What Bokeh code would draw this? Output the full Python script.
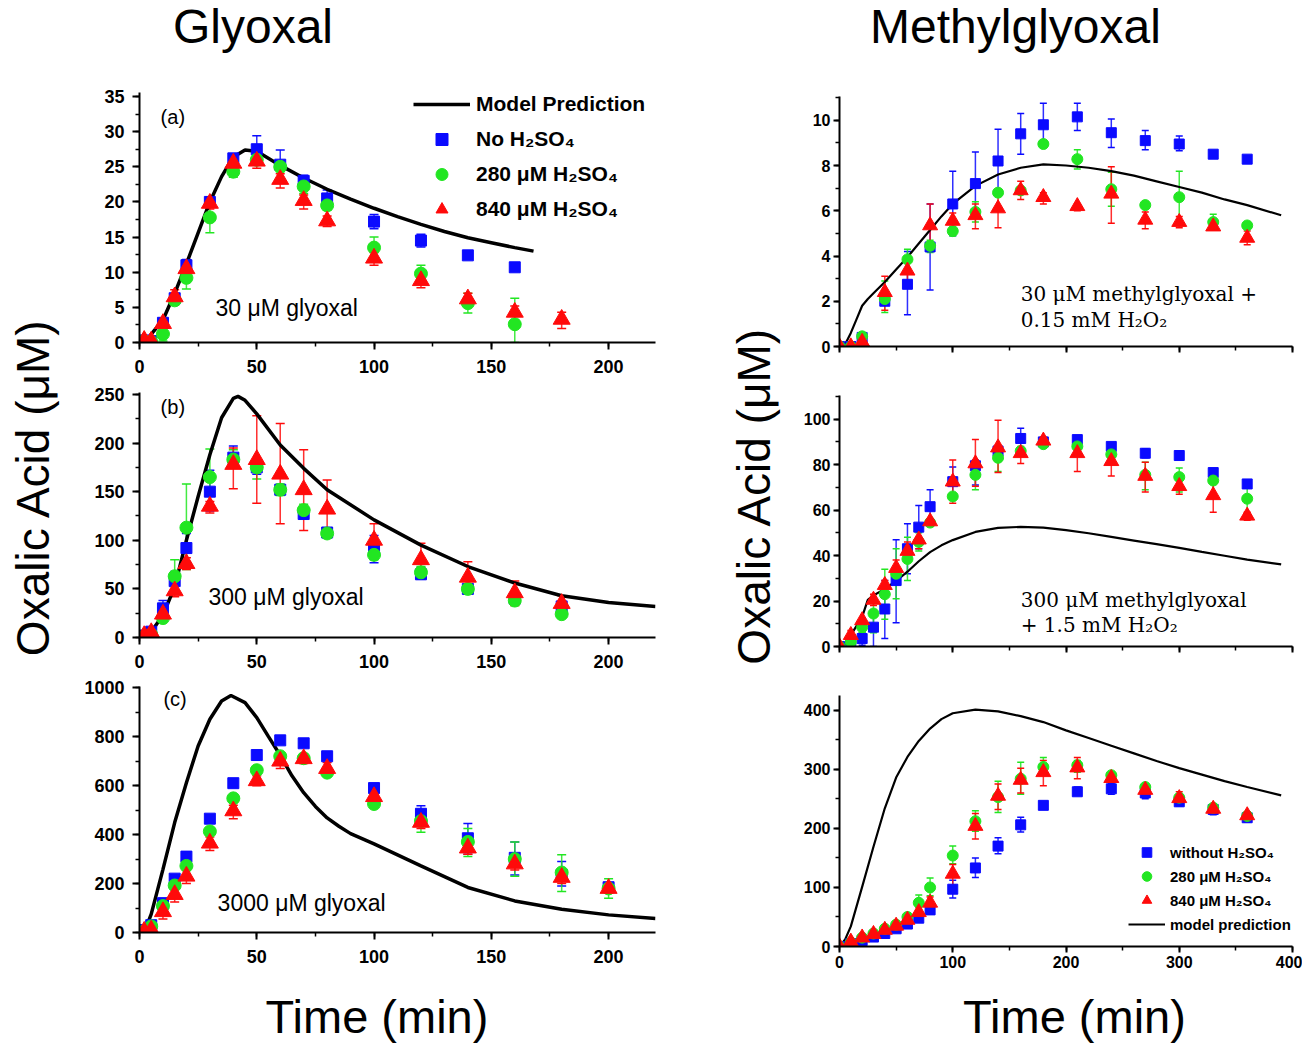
import math
from bokeh.plotting import figure
from bokeh.models import (Range1d, ColumnDataSource, Whisker, TeeHead, Label, Legend,
                          LegendItem, SingleIntervalTicker)
from bokeh.layouts import column, row
from bokeh.embed import file_html
from bokeh.resources import INLINE

# ---------------------------------------------------------------- data
# Glyoxal panels (time in min, oxalic acid in uM)
T_A = [2, 5, 10, 15, 20, 30, 40, 50, 60, 70, 80, 100, 120, 140, 160, 180]
A_NO = [0.3, 0.2, 2.8, 6.3, 11.0, 20.0, 26.2, 27.5, 25.3, 23.0, 20.5, 17.2, 14.5, 12.4, 10.7, None]
A_NO_LO = [None, None, 2.3, None, 10.2, 19.3, 25.6, 26.6, 24.6, 22.3, 19.3, 16.2, 13.6, None, None, None]
A_NO_HI = [None, None, 3.3, None, 11.8, 20.7, 26.8, 29.4, 27.4, 23.8, 21.7, 18.2, 15.4, None, None, None]
A_280 = [0.2, 0.1, 1.2, 6.0, 9.2, 17.8, 24.3, 26.0, 25.0, 22.2, 19.5, 13.5, 9.8, 5.6, 2.6, None]
A_280_LO = [None, None, 0.2, None, 7.6, 15.6, 23.5, 25.3, 24.3, 21.2, 18.8, 12.0, 8.6, 4.2, 0.0, None]
A_280_HI = [None, None, 2.2, None, 10.8, 20.0, 25.1, 26.7, 25.7, 23.2, 20.2, 15.0, 11.0, 7.0, 6.3, None]
A_840 = [0.3, 0.2, 2.7, 6.5, 10.5, 19.8, 25.5, 25.8, 23.2, 20.2, 17.3, 12.0, 8.8, 6.2, 4.3, 3.3]
A_840_LO = [None, None, 2.0, 5.3, 9.5, 19.0, 24.5, 24.8, 22.0, 19.0, 16.5, 11.0, 7.8, 5.2, 3.2, 2.0]
A_840_HI = [None, None, 3.3, 7.5, 11.3, 20.6, 26.4, 26.8, 24.0, 21.0, 18.0, 12.8, 9.6, 7.0, 5.2, 4.3]
MA_T = [3, 5, 10, 15, 20, 25, 30, 35, 40, 45, 50, 60, 70, 80, 90, 100, 110, 120, 130, 140, 150, 160, 168]
MA_Y = [0.0, 1.2, 3.2, 7.0, 11.2, 15.6, 20.0, 23.6, 26.4, 27.4, 27.2, 25.2, 23.4, 21.8, 20.4, 19.1,
        17.9, 16.8, 15.8, 14.9, 14.2, 13.5, 13.0]

T_B = [2, 5, 10, 15, 20, 30, 40, 50, 60, 70, 80, 100, 120, 140, 160, 180]
B_NO = [2, 6, 30, 58, 92, 150, 185, 175, 152, 127, 108, 92, 65, 50, 40, 32]
B_NO_LO = [None, None, 22, 48, 78, 130, 175, 168, 148, 123, 104, 77, 60, 45, 35, 27]
B_NO_HI = [None, None, 38, 68, 107, 172, 197, 182, 156, 131, 112, 105, 72, 55, 45, 37]
B_280 = [1, 3, 20, 63, 113, 165, 183, 175, 152, 131, 107, 85, 67, 50, 38, 24]
B_280_LO = [None, None, 17, 45, 70, 135, 175, 163, 146, 125, 102, 80, 61, 45, 33, 21]
B_280_HI = [None, None, 23, 80, 158, 194, 193, 180, 158, 137, 112, 90, 73, 55, 43, 27]
B_840 = [2, 5, 24, 48, 76, 135, 178, 183, 168, 152, 132, 100, 80, 62, 46, 35]
B_840_LO = [None, None, 20, 42, 70, 128, 153, 138, 117, 110, 103, 88, 67, 45, 33, 25]
B_840_HI = [None, None, 28, 55, 82, 140, 195, 228, 220, 193, 162, 117, 97, 78, 58, 43]
MB_T = [2, 5, 10, 15, 20, 25, 30, 35, 40, 42, 45, 50, 60, 70, 80, 100, 120, 140, 160, 180, 200, 220]
MB_Y = [0, 6, 23, 52, 100, 145, 188, 226, 246, 248, 244, 230, 198, 174, 152, 121, 95, 73, 56, 43, 36, 32]

T_C = [2, 5, 10, 15, 20, 30, 40, 50, 60, 70, 80, 100, 120, 140, 160, 180, 200]
C_NO = [10, 30, 120, 220, 310, 465, 610, 725, 785, 773, 720, 590, 485, 385, 305, 235, 185]
C_NO_LO = [None, None, None, None, None, None, None, None, None, None, None, 575, 450, 320, 235, 190, 170]
C_NO_HI = [None, None, None, None, None, None, None, None, None, None, None, 605, 518, 445, 370, 290, 200]
C_280 = [5, 25, 108, 192, 272, 413, 548, 663, 720, 712, 653, 525, 455, 370, 300, 245, 180]
C_280_LO = [None, None, None, None, None, None, None, None, None, None, None, None, 410, 310, 230, 168, 140]
C_280_HI = [None, None, None, None, None, None, None, None, None, None, None, None, 475, 425, 370, 318, 220]
C_840 = [5, 10, 85, 155, 230, 365, 497, 620, 700, 710, 670, 555, 450, 345, 280, 225, 180]
C_840_LO = [None, None, 55, 125, 200, 335, 465, 600, 670, 690, 640, 530, 425, 320, 255, 200, 160]
C_840_HI = [None, None, 105, 180, 255, 390, 520, 640, 725, 730, 695, 580, 470, 365, 300, 245, 200]
MC_T = [2, 5, 10, 15, 20, 25, 30, 35, 39, 45, 50, 55, 60, 65, 70, 75, 80, 85, 90, 100, 120, 140, 160,
        180, 200, 220]
MC_Y = [0, 75, 258, 449, 612, 762, 871, 946, 968, 939, 878, 800, 724, 640, 571, 515, 468, 434, 404,
        362, 272, 184, 129, 95, 72, 57]

# Methylglyoxal panels
T_R1 = [0, 10, 20, 40, 60, 80, 100, 120, 140, 160, 180, 210, 240, 270, 300, 330, 360]
R1_NO = [0, 0, 0.4, 2.0, 2.75, 4.4, 6.3, 7.2, 8.2, 9.4, 9.8, 10.15, 9.45, 9.1, 8.95, 8.5, 8.28]
R1_NO_LO = [None, None, None, None, 1.4, 2.5, 4.9, 5.8, 6.8, 8.5, 8.9, 9.55, 8.8, 8.7, 8.65, None, None]
R1_NO_HI = [None, None, None, None, 4.2, 6.3, 7.75, 8.6, 9.6, 10.3, 10.75, 10.75, 10.05, 9.55, 9.3, None, None]
R1_280 = [0, 0, 0.45, 2.1, 3.85, 4.45, 5.1, 5.95, 6.8, 6.9, 8.95, 8.28, 6.95, 6.25, 6.6, 5.5, 5.35]
R1_280_LO = [None, None, None, 1.5, 3.4, 4.15, 4.9, 5.5, None, None, None, 7.85, 6.2, None, 5.5, 5.2, None]
R1_280_HI = [None, None, None, 2.9, 4.3, 4.7, 5.3, 6.4, None, None, None, 8.7, 7.7, None, 7.75, 5.85, None]
R1_840 = [0, 0, 0.2, 2.4, 3.35, 5.35, 5.55, 5.8, 6.1, 6.9, 6.6, 6.2, 6.75, 5.6, 5.5, 5.3, 4.8]
R1_840_LO = [None, None, None, 1.6, 2.9, 4.4, 5.2, 5.2, 5.25, 6.5, 6.3, 6.0, 5.45, 5.2, 5.25, 5.15, 4.5]
R1_840_HI = [None, None, None, 3.1, 3.8, 6.3, 5.9, 6.3, 6.85, 7.3, 6.8, 6.3, 7.95, 5.95, 5.75, 5.45, 5.1]
MR1_T = [4, 10, 15, 20, 25, 30, 40, 50, 60, 70, 80, 90, 100, 120, 140, 160, 180, 200, 220, 240, 260,
         280, 300, 320, 340, 360, 390]
MR1_Y = [0, 0.6, 1.2, 1.8, 2.1, 2.35, 2.85, 3.4, 3.95, 4.55, 5.15, 5.75, 6.3, 7.1, 7.6, 7.9, 8.05, 8.0,
         7.9, 7.75, 7.55, 7.3, 7.05, 6.8, 6.5, 6.25, 5.8]

T_R23 = [0, 10, 20, 30, 40, 50, 60, 70, 80, 100, 120, 140, 160, 180, 210, 240, 270, 300, 330, 360]
R2_NO = [0, 1, 3.5, 8.5, 16.5, 29, 43, 52.5, 61.5, 72.5, 79.5, 86, 91.5, 90, 91, 88, 85, 84, 76.5, 71.5]
R2_NO_LO = [None, None, 0.5, 0, 3.5, 10.5, 32, 43, 54, 66, 71, None, 87, None, None, None, 83, None, None, None]
R2_NO_HI = [None, None, 6, 16, 29, 47, 54, 62, 69, 79, 82, None, 96, None, None, None, 87, None, None, None]
R2_280 = [0, 2, 8.5, 14.5, 23, 32, 38.5, 46, 54.5, 66, 75.5, 83, 86, 89, 88, 84.5, 75.5, 74.5, 73, 65]
R2_280_LO = [None, None, 6, 6, 12, 21, 29, 42, None, None, 69, 77, None, None, None, None, 69, 68, 67, 56]
R2_280_HI = [None, None, 11, 22, 34, 43, 48, 50, None, None, 78, 87, None, None, None, None, 81, 78.5, 78, 71]
R2_840 = [0, 5, 11.5, 20.5, 27, 34.5, 42, 47, 55, 72.5, 80.5, 87.5, 85, 90.5, 85, 81.5, 75, 70.5, 66.5, 57.5]
R2_840_LO = [None, 3, None, 18, 25, 29, 40, 43, None, 63, 70.5, 76.5, 80.5, 89, 77, 75, 68, 67, 59, 55.5]
R2_840_HI = [None, 7, None, 23, 29, 38, 46, 51, None, 82, 91, 99.5, 88, 92, 92, 87, 81, 74, 74, 59]
MR2_T = [3, 10, 20, 25, 30, 40, 50, 60, 70, 80, 90, 100, 120, 140, 160, 180, 200, 220, 240, 260, 280,
         300, 320, 340, 360, 390]
MR2_Y = [0, 5, 13, 20.5, 22.5, 25.3, 28.8, 32.9, 37.5, 41.5, 44.5, 46.8, 50.4, 52.2, 52.6, 52.3, 51.2,
         49.8, 48.2, 46.6, 45, 43.4, 41.6, 39.9, 38.2, 36.1]

R3_NO = [0, 5, 10, 16, 22, 30, 38, 48, 62, 97, 133, 170, 206, 239, 262, 267, 260, 245, 232, 218]
R3_NO_LO = [None, None, None, None, None, None, None, None, None, 82, 117, 157, 194, None, 256, 258, 250, 238, 223, 211]
R3_NO_HI = [None, None, None, None, None, None, None, None, None, 112, 150, 184, 219, None, 270, 276, 268, 250, 238, 225]
R3_280 = [0, 7, 15, 22, 30, 37, 50, 74, 100, 154, 212, 253, 284, 304, 307, 290, 270, 252, 235, 221]
R3_280_LO = [None, None, None, None, 25, 31, 44, 62, 86, 140, 195, 227, 258, 290, 295, None, None, None, None, None]
R3_280_HI = [None, None, None, None, 36, 43, 56, 87, 116, 170, 230, 280, 312, 320, 315, None, None, None, None, None]
R3_840 = [0, 8, 15, 21, 28, 35, 45, 58, 74, 123, 204, 255, 282, 295, 303, 285, 265, 251, 233, 222]
R3_840_LO = [None, None, None, None, None, 31, 40, 52, 64, 104, 182, 232, 260, 272, 284, 280, 258, 242, 228, 215]
R3_840_HI = [None, None, None, None, None, 40, 52, 66, 84, 139, 225, 275, 302, 315, 320, 292, 272, 262, 240, 228]
MR3_T = [0, 5, 10, 20, 30, 40, 50, 60, 70, 80, 90, 100, 120, 140, 160, 180, 200, 220, 240, 260, 280,
         300, 320, 340, 360, 390]
MR3_Y = [0, 12, 34, 101, 169, 234, 286, 321, 348, 369, 385, 395, 401, 398, 390, 380, 366, 353, 340,
         327, 314, 302, 291, 280, 270, 256]

# ---------------------------------------------------------------- style
SANS = "Liberation Sans"
SERIF = "DejaVu Serif"
BLUE = "#0a0aff"
GREEN = "#22e622"
RED = "#ff0a0a"


def blank(w, h):
    p = figure(width=w, height=h, x_range=Range1d(0, w), y_range=Range1d(0, h),
               x_axis_type=None, y_axis_type=None, output_backend="svg",
               toolbar_location=None, min_border=0)
    p.outline_line_color = None
    p.grid.visible = False
    return p


def panel(w, h, xr, yr, borders, xint, yint, font_px, std, tick_out, xlabels=True):
    p = figure(width=w, height=h, x_range=Range1d(*xr), y_range=Range1d(*yr),
               output_backend="svg", toolbar_location=None,
               min_border_left=borders[0], min_border_right=borders[1],
               min_border_top=borders[2], min_border_bottom=borders[3])
    p.outline_line_color = None
    p.xgrid.visible = False
    p.ygrid.visible = False
    p.xaxis.ticker = SingleIntervalTicker(interval=xint, num_minor_ticks=2)
    p.yaxis.ticker = SingleIntervalTicker(interval=yint, num_minor_ticks=2)
    for ax in (p.xaxis[0], p.yaxis[0]):
        ax.axis_line_width = 2
        ax.axis_line_color = "black"
        ax.major_tick_line_width = 2
        ax.minor_tick_line_width = 1.5
        ax.major_tick_in = 0
        ax.major_tick_out = tick_out
        ax.minor_tick_in = 0
        ax.minor_tick_out = tick_out // 2 + 1
        ax.major_label_text_font = SANS
        ax.major_label_text_font_style = "bold"
        ax.major_label_text_font_size = f"{font_px}px"
        ax.major_label_text_color = "black"
        ax.major_label_standoff = std
    if not xlabels:
        p.xaxis[0].major_label_overrides = {v: "" for v in range(0, 401, 100)}
    return p


def series(p, t, y, lo, hi, color, marker, size, head):
    pts = [(a, b) for a, b in zip(t, y) if b is not None]
    src = ColumnDataSource(dict(x=[a for a, _ in pts], y=[b for _, b in pts]))
    err = [(a, l, h) for a, l, h in zip(t, lo, hi) if l is not None and h is not None]
    if err:
        esrc = ColumnDataSource(dict(x=[e[0] for e in err], lower=[e[1] for e in err],
                                     upper=[e[2] for e in err]))
        p.add_layout(Whisker(source=esrc, base="x", lower="lower", upper="upper",
                             line_color=color, line_width=1.5, line_alpha=0.85,
                             upper_head=TeeHead(size=head, line_color=color, line_width=1.5),
                             lower_head=TeeHead(size=head, line_color=color, line_width=1.5)))
    return p.scatter("x", "y", source=src, marker=marker, size=size, color=color)


def model(p, t, y, width):
    return p.line(t, y, line_color="black", line_width=width)


def text(p, x, y, s, size, font=SANS):
    p.add_layout(Label(x=x, y=y, text=s, text_font=font, text_font_size=size,
                       text_baseline="middle", text_align="left", text_color="black"))


def style_legend(leg, size, gw, gh, standoff, spacing):
    leg.label_text_font = SANS
    leg.label_text_font_style = "bold"
    leg.label_text_font_size = size
    leg.label_text_color = "black"
    leg.glyph_width = gw
    leg.glyph_height = gh
    leg.label_height = gh
    leg.label_standoff = standoff
    leg.spacing = spacing
    leg.padding = 0
    leg.margin = 0
    leg.border_line_color = None
    leg.background_fill_alpha = 0


# ---------------------------------------------------------------- left column
LW = 625
pa = panel(LW, 320, (0, 220), (0, 35.57), (64, 45, 32, 38), 50, 5, 18, 10, 7)
pb = panel(LW, 295, (0, 220), (0, 252), (64, 45, 12, 38), 50, 50, 18, 10, 7)
pc = panel(LW, 310, (0, 220), (0, 1005), (64, 45, 11, 53), 50, 200, 18, 10, 7)
for p in (pa, pb, pc):
    p.yaxis[0].major_label_standoff = 8

panels_left = [
    (pa, T_A, [(A_NO, A_NO_LO, A_NO_HI), (A_280, A_280_LO, A_280_HI), (A_840, A_840_LO, A_840_HI)], MA_T, MA_Y),
    (pb, T_B, [(B_NO, B_NO_LO, B_NO_HI), (B_280, B_280_LO, B_280_HI), (B_840, B_840_LO, B_840_HI)], MB_T, MB_Y),
    (pc, T_C, [(C_NO, C_NO_LO, C_NO_HI), (C_280, C_280_LO, C_280_HI), (C_840, C_840_LO, C_840_HI)], MC_T, MC_Y),
]
styles_left = [(BLUE, "square", 11), (GREEN, "circle", 13), (RED, "triangle", 17)]
leg_rs = None
for p, t, sers, mt, my in panels_left:
    m = model(p, mt, my, 3.5)
    rs = []
    for (y, lo, hi), (c, mk, sz) in zip(sers, styles_left):
        rs.append(series(p, t, y, lo, hi, c, mk, sz, 9))
    if leg_rs is None:
        leg_rs = [m] + rs

leg_a = Legend(items=[LegendItem(label="Model Prediction", renderers=[leg_rs[0]]),
                      LegendItem(label="No H\u2082SO\u2084", renderers=[leg_rs[1]]),
                      LegendItem(label="280 \u03bcM H\u2082SO\u2084", renderers=[leg_rs[2]]),
                      LegendItem(label="840 \u03bcM H\u2082SO\u2084", renderers=[leg_rs[3]])],
               location=(274, 118))
style_legend(leg_a, "21px", 57, 30, 6, 5)
pa.add_layout(leg_a)

text(pa, 9, 32.1, "(a)", "20px")
text(pa, 32.4, 4.85, "30 \u03bcM glyoxal", "23px")
text(pb, 9, 236.7, "(b)", "20px")
text(pb, 29.4, 41.8, "300 \u03bcM glyoxal", "23px")
text(pc, 10.2, 955, "(c)", "20px")
text(pc, 33.3, 122, "3000 \u03bcM glyoxal", "23px")

# ---------------------------------------------------------------- right column
RW = 512
r1 = panel(RW, 315, (0, 400), (0, 11.05), (49, 10, 36, 29), 100, 2, 16, 3, 6, xlabels=False)
r2 = panel(RW, 300, (0, 400), (0, 110.4), (49, 10, 20, 29), 100, 20, 16, 3, 6, xlabels=False)
r3 = panel(RW, 310, (0, 400), (0, 425), (49, 10, 20, 39), 100, 100, 16, 3, 6)

panels_right = [
    (r1, T_R1, [(R1_NO, R1_NO_LO, R1_NO_HI), (R1_280, R1_280_LO, R1_280_HI), (R1_840, R1_840_LO, R1_840_HI)], MR1_T, MR1_Y),
    (r2, T_R23, [(R2_NO, R2_NO_LO, R2_NO_HI), (R2_280, R2_280_LO, R2_280_HI), (R2_840, R2_840_LO, R2_840_HI)], MR2_T, MR2_Y),
    (r3, T_R23, [(R3_NO, R3_NO_LO, R3_NO_HI), (R3_280, R3_280_LO, R3_280_HI), (R3_840, R3_840_LO, R3_840_HI)], MR3_T, MR3_Y),
]
styles_right = [(BLUE, "square", 10), (GREEN, "circle", 11), (RED, "triangle", 15)]
leg_r = None
for p, t, sers, mt, my in panels_right:
    m = model(p, mt, my, 2.2)
    rs = []
    for (y, lo, hi), (c, mk, sz) in zip(sers, styles_right):
        rs.append(series(p, t, y, lo, hi, c, mk, sz, 7))
    leg_r = rs + [m]

leg_3 = Legend(items=[LegendItem(label="without H\u2082SO\u2084", renderers=[leg_r[0]]),
                      LegendItem(label="280 \u03bcM H\u2082SO\u2084", renderers=[leg_r[1]]),
                      LegendItem(label="840 \u03bcM H\u2082SO\u2084", renderers=[leg_r[2]]),
                      LegendItem(label="model prediction", renderers=[leg_r[3]])],
               location=(289, 10))
style_legend(leg_3, "15px", 37, 24, 5, 0)
r3.add_layout(leg_3)

text(r1, 160, 2.31, "30 \u03bcM methylglyoxal +", "20px", SERIF)
text(r1, 160, 1.17, "0.15 mM H\u2082O\u2082", "20px", SERIF)
text(r2, 160, 20.5, "300 \u03bcM methylglyoxal", "20px", SERIF)
text(r2, 160, 9.5, "+ 1.5 mM H\u2082O\u2082", "20px", SERIF)

# ---------------------------------------------------------------- titles / axis labels
header = blank(1302, 60)
for x, s in ((252.5, "Glyoxal"), (1015, "Methylglyoxal")):
    header.add_layout(Label(x=x, y=34, text=s, text_font=SANS, text_font_size="48px",
                            text_align="center", text_baseline="alphabetic", text_color="black"))

footer = blank(1302, 62)
for x, s in ((376.5, "Time (min)"), (1074, "Time (min)")):
    footer.add_layout(Label(x=x, y=31, text=s, text_font=SANS, text_font_size="47px",
                            text_align="center", text_baseline="alphabetic", text_color="black"))

lab_left = blank(75, 925)
lab_left.add_layout(Label(x=32, y=498.5, text="Oxalic Acid (\u03bcM)", angle=math.pi / 2,
                          text_font=SANS, text_font_size="46px", text_align="center",
                          text_baseline="alphabetic", text_color="black"))
lab_right = blank(90, 925)
lab_right.add_layout(Label(x=53, y=490, text="Oxalic Acid (\u03bcM)", angle=math.pi / 2,
                           text_font=SANS, text_font_size="46px", text_align="center",
                           text_baseline="alphabetic", text_color="black"))

left_col = column(pa, pb, pc, spacing=0)
right_col = column(r1, r2, r3, spacing=0)
body = row(lab_left, left_col, lab_right, right_col, spacing=0)
layout = column(header, body, footer, spacing=0)

open("out.html", "w").write(file_html(layout, INLINE))
